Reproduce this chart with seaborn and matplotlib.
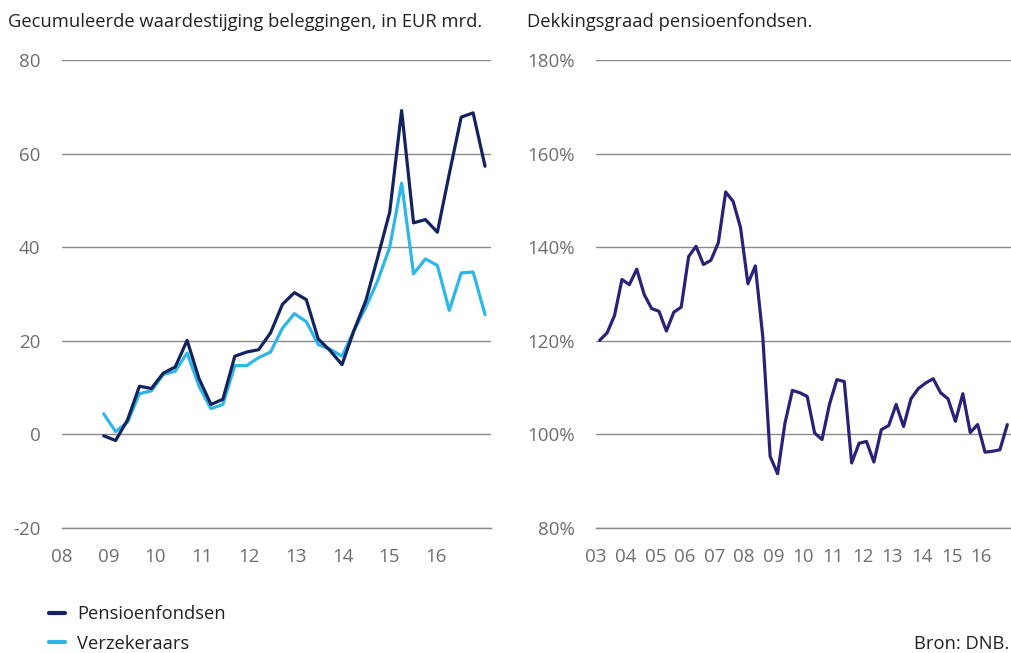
import numpy as np
import pandas as pd
import matplotlib.pyplot as plt
import seaborn as sns
from matplotlib.lines import Line2D

# Left panel: cumulative value increase of investments, EUR bn, quarterly
left_periods = pd.period_range('2008Q4', '2016Q4', freq='Q')
pensioenfondsen = [-0.3, -1.3, 3.1, 10.3, 9.8, 13.1, 14.4, 20.1, 11.9, 6.4, 7.5,
                   16.7, 17.6, 18.1, 21.7, 27.8, 30.3, 28.8, 20.4, 17.9, 14.9,
                   22.2, 28.6, 37.9, 47.5, 69.2, 45.2, 45.9, 43.2, 55.7, 67.8,
                   68.7, 57.3]
verzekeraars = [4.4, 0.6, 2.6, 8.7, 9.3, 12.8, 13.5, 17.4, 10.3, 5.5, 6.4,
                14.7, 14.7, 16.4, 17.6, 22.7, 25.8, 24.1, 19.2, 18.2, 16.7,
                22.2, 27.2, 32.9, 40.0, 53.7, 34.3, 37.5, 36.1, 26.5, 34.5,
                34.7, 25.6]

# Right panel: funding ratio of pension funds, %, quarterly
right_periods = pd.period_range('2003Q1', '2016Q4', freq='Q')
dekkingsgraad = [120.1, 121.7, 125.4, 133.1, 132.0, 135.3, 129.9, 126.9, 126.3,
                 122.1, 126.1, 127.2, 138.0, 140.2, 136.3, 137.2, 140.9, 151.8,
                 149.8, 144.2, 132.2, 136.0, 121.0, 95.3, 91.6, 102.4, 109.4,
                 108.9, 108.1, 100.3, 98.9, 106.4, 111.7, 111.3, 93.9, 98.1,
                 98.5, 94.1, 101.0, 101.9, 106.4, 101.7, 107.6, 109.8, 111.0,
                 111.9, 108.9, 107.6, 102.8, 108.7, 100.4, 102.1, 96.2, 96.4,
                 96.7, 102.1]

left_years = list(range(2008, 2017))
right_years = list(range(2003, 2017))
left_yticks = [-20, 0, 20, 40, 60, 80]
right_yticks = [80, 100, 120, 140, 160, 180]

navy = '#13235f'
lightblue = '#2db6e8'
indigo = '#2a2278'
grid_c = '#8a8a8a'
tick_c = '#6e6e6e'
text_c = '#222222'
fs_tick = 13.5
fs_text = 13.2

sns.set_style('white')
plt.rcParams['font.family'] = ['Open Sans', 'DejaVu Sans']

def quarter_pos(periods):
    return periods.year + (periods.quarter - 0.5) / 4

left_df = pd.DataFrame({
    'x': np.concatenate([quarter_pos(left_periods)] * 2),
    'waarde': pensioenfondsen + verzekeraars,
    'reeks': ['Pensioenfondsen'] * len(left_periods) + ['Verzekeraars'] * len(left_periods),
})
right_df = pd.DataFrame({'x': quarter_pos(right_periods), 'dekkingsgraad': dekkingsgraad})

W, H = 1011, 653
fig = plt.figure(figsize=(W / 100, H / 100), dpi=100)
ax1 = fig.add_axes([62 / W, 1 - 528 / H, 429 / W, 468 / H])
ax2 = fig.add_axes([596 / W, 1 - 528 / H, 415 / W, 468 / H])

sns.lineplot(data=left_df, x='x', y='waarde', hue='reeks',
             palette={'Pensioenfondsen': navy, 'Verzekeraars': lightblue},
             hue_order=['Verzekeraars', 'Pensioenfondsen'],
             linewidth=2.3, legend=False, ax=ax1)
sns.lineplot(data=right_df, x='x', y='dekkingsgraad', color=indigo,
             linewidth=2.3, ax=ax2)

for ax, yt in ((ax1, left_yticks), (ax2, right_yticks)):
    ax.set_ylim(yt[0], yt[-1])
    ax.set_yticks(yt)
    ax.yaxis.grid(True, color=grid_c, linewidth=1)
    ax.xaxis.grid(False)
    for s in ('top', 'right', 'left'):
        ax.spines[s].set_visible(False)
    ax.spines['bottom'].set_color(grid_c)
    ax.spines['bottom'].set_linewidth(1)
    ax.set_xlabel('')
    ax.set_ylabel('')
    ax.tick_params(axis='y', length=0, pad=15.5, labelsize=fs_tick, labelcolor=tick_c)
    ax.set_axisbelow(True)

ax1.set_yticklabels([str(v) for v in left_yticks])
ax2.set_yticklabels([f'{v}%' for v in right_yticks])

# left x axis: tick marks and labels are not aligned in the original
ax1.set_xlim(2008, 2017)
ax1.set_xticks(np.linspace(2008, 2015.85, len(left_years)))
ax1.set_xticklabels([f'{y % 100:02d}' for y in left_years])
ax1.set_xticks(np.linspace(2008, 2017, 9), minor=True)
ax1.tick_params(axis='x', which='major', length=0, pad=14.5, labelsize=fs_tick, labelcolor=tick_c)
ax1.tick_params(axis='x', which='minor', length=10, width=1, color=grid_c)

ax2.set_xlim(2003, 2017)
ax2.set_xticks(right_years)
ax2.set_xticklabels([f'{y % 100:02d}' for y in right_years])
ax2.tick_params(axis='x', length=10, width=1, color=grid_c, pad=4.5,
                labelsize=fs_tick, labelcolor=tick_c)

fig.text(8 / W, 1 - 22 / H, 'Gecumuleerde waardestijging beleggingen, in EUR mrd.',
         fontsize=fs_text, color=text_c, va='center', ha='left')
fig.text(527 / W, 1 - 22 / H, 'Dekkingsgraad pensioenfondsen.',
         fontsize=fs_text, color=text_c, va='center', ha='left')

handles = [Line2D([], [], color=navy, linewidth=3),
           Line2D([], [], color=lightblue, linewidth=3)]
fig.legend(handles, ['Pensioenfondsen', 'Verzekeraars'], loc='center left',
           bbox_to_anchor=(49 / W, 1 - 629 / H), frameon=False, fontsize=fs_text,
           handlelength=0.87, handletextpad=0.65, labelspacing=0.62,
           labelcolor=text_c, borderaxespad=0, borderpad=0)
fig.text(1009 / W, 1 - 644 / H, 'Bron: DNB.', fontsize=fs_text, color=text_c,
         ha='right', va='center')

fig.savefig('out.png', dpi=100)
